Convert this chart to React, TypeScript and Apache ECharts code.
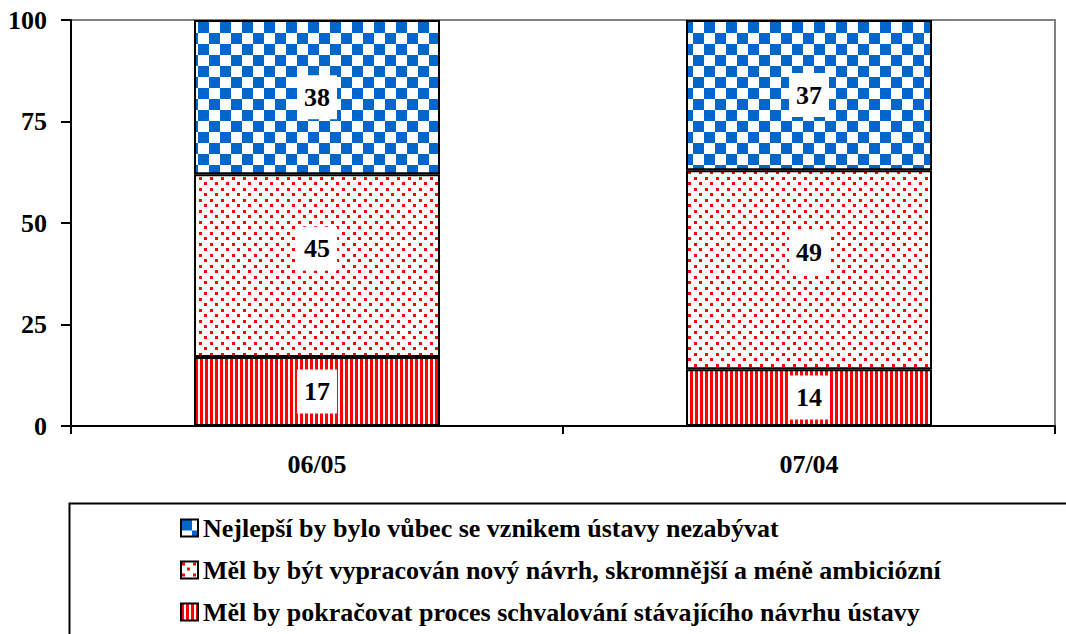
import React, { useEffect, useRef } from "react";
import * as echarts from "echarts";

const categories = ["06/05", "07/04"];
const seriesNames = [
  "Měl by pokračovat proces schvalování stávajícího návrhu ústavy",
  "Měl by být vypracován nový návrh, skromnější a méně ambiciózní",
  "Nejlepší by bylo vůbec se vznikem ústavy nezabývat",
];
const continueValues = [17, 14];
const newDraftValues = [45, 49];
const dropValues = [38, 37];
const yTicks = [0, 25, 50, 75, 100];

function makePattern(w: number, h: number, draw: (ctx: CanvasRenderingContext2D) => void) {
  const c = document.createElement("canvas");
  c.width = w;
  c.height = h;
  const ctx = c.getContext("2d")!;
  ctx.fillStyle = "#ffffff";
  ctx.fillRect(0, 0, w, h);
  draw(ctx);
  return { image: c, repeat: "repeat", imageWidth: w, imageHeight: h } as any;
}

export default function App() {
  const ref = useRef<HTMLDivElement>(null);
  useEffect(() => {
    if (!ref.current) return;
    const chart = echarts.init(ref.current, null, { renderer: "svg" });
    const checker = makePattern(22, 22, (ctx) => {
      ctx.fillStyle = "#0066CC";
      ctx.fillRect(0, 0, 11, 11);
      ctx.fillRect(11, 11, 11, 11);
    });
    const dots = makePattern(11, 11, (ctx) => {
      ctx.fillStyle = "#FF0000";
      ctx.fillRect(1, 1, 3, 3);
      ctx.fillRect(6, 6, 3, 3);
    });
    const stripes = makePattern(5, 4, (ctx) => {
      ctx.fillStyle = "#FF0000";
      ctx.fillRect(0, 0, 3, 4);
    });
    const font = "Liberation Serif";
    const label = (offsetY: number) => ({
      show: true,
      position: "inside",
      formatter: "{c}",
      backgroundColor: "#ffffff",
      padding: [10, 7, 8, 7],
      fontSize: 26,
      fontWeight: "bold",
      fontFamily: font,
      color: "#000",
      offset: [0, offsetY],
    });
    const base = {
      type: "bar",
      stack: "total",
      barWidth: "50%",
      itemStyle: { borderColor: "#000", borderWidth: 2 },
    };
    chart.setOption({
      animation: false,
      backgroundColor: "#ffffff",
      textStyle: { fontFamily: font },
      grid: {
        left: 71,
        right: 11,
        top: 20,
        bottom: 208,
        show: true,
        borderColor: "#808080",
        borderWidth: 2,
        backgroundColor: "transparent",
      },
      xAxis: {
        type: "category",
        data: categories,
        boundaryGap: true,
        axisLine: { lineStyle: { color: "#000", width: 2 } },
        axisTick: { show: true, length: 8, lineStyle: { color: "#000", width: 2 } },
        axisLabel: { color: "#000", fontSize: 26, fontWeight: "bold", fontFamily: font, margin: 25 },
      },
      yAxis: {
        type: "value",
        min: yTicks[0],
        max: yTicks[yTicks.length - 1],
        interval: 25,
        axisLine: { show: true, lineStyle: { color: "#000", width: 2 } },
        axisTick: { show: true, length: 10, lineStyle: { color: "#000", width: 2 } },
        splitLine: { show: false },
        axisLabel: { color: "#000", fontSize: 26, fontWeight: "bold", fontFamily: font, margin: 24 },
      },
      legend: {
        data: [seriesNames[2], seriesNames[1], seriesNames[0]],
        orient: "vertical",
        left: 180,
        top: 515,
        padding: 0,
        height: 200,
        itemWidth: 17,
        itemHeight: 17,
        itemGap: 16,
        icon: "rect",
        itemStyle: { borderColor: "#000", borderWidth: 2 },
        textStyle: { color: "#000", fontSize: 26, lineHeight: 26, fontWeight: "bold", fontFamily: font },
      },
      graphic: [
        {
          type: "rect",
          left: 67,
          top: 501,
          shape: { width: 1020, height: 200 },
          style: { fill: "none", stroke: "#000", lineWidth: 2 },
          z: -1,
        },
      ],
      series: [
        { ...base, name: seriesNames[0], data: continueValues, itemStyle: { ...base.itemStyle, color: stripes }, label: label(0) },
        { ...base, name: seriesNames[1], data: newDraftValues, itemStyle: { ...base.itemStyle, color: dots }, label: label(-17) },
        { ...base, name: seriesNames[2], data: dropValues, itemStyle: { ...base.itemStyle, color: checker }, label: label(0) },
      ],
    });
    return () => chart.dispose();
  }, []);
  return (
    <div
      ref={ref}
      style={{ position: "fixed", left: 0, top: 0, width: 1066, height: 634, background: "#fff" }}
    />
  );
}
